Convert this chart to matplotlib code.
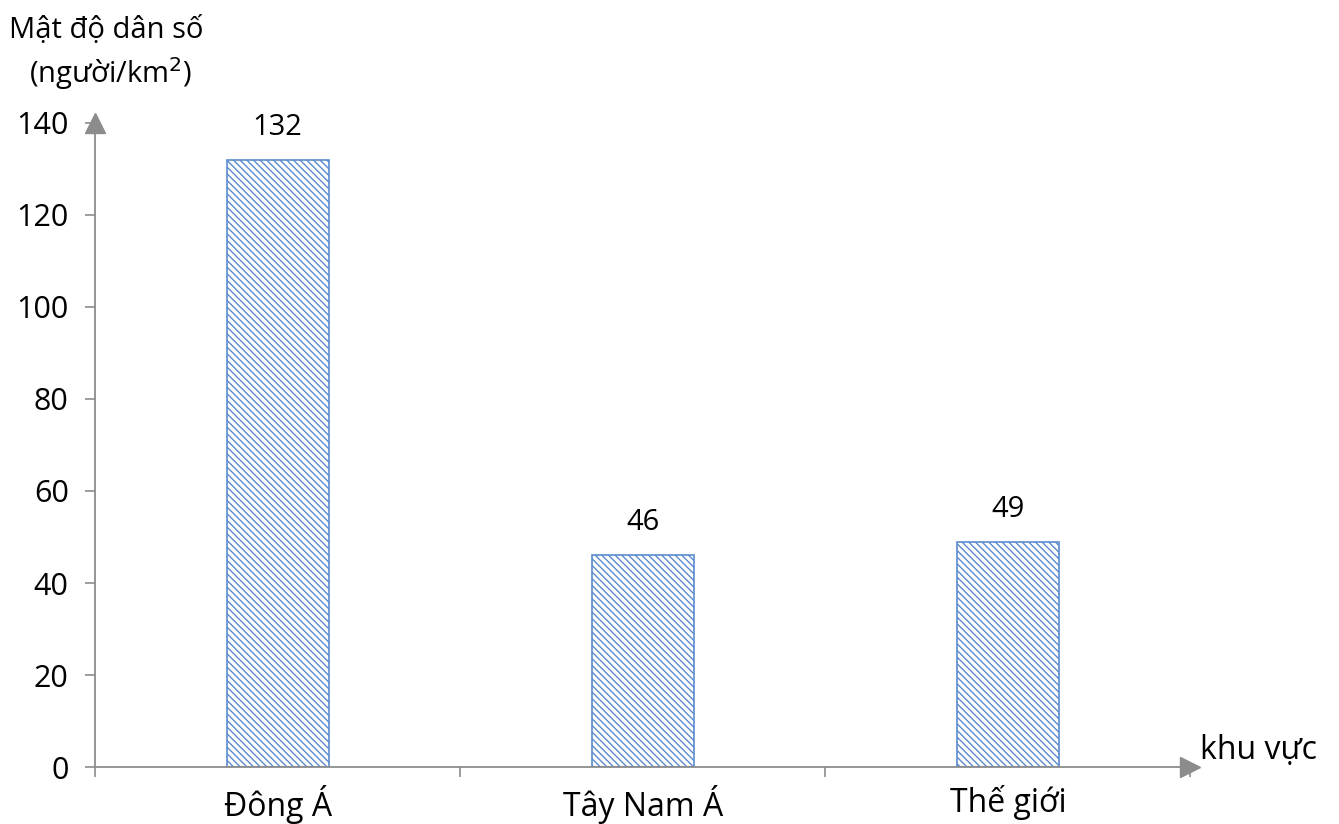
import numpy as np
import matplotlib.pyplot as plt

regions = ["Đông Á", "Tây Nam Á", "Thế giới"]
density = [132, 46, 49]
yticks = [0, 20, 40, 60, 80, 100, 120, 140]

plt.rcParams['font.family'] = ['Open Sans', 'DejaVu Sans']
plt.rcParams['hatch.color'] = '#5B8BD0'
plt.rcParams['hatch.linewidth'] = 1.0

fig = plt.figure(figsize=(13.39, 8.24), dpi=100)
ax = fig.add_axes([0.071, 0.069, 0.818, 0.782])

x = np.arange(len(regions))
bars = ax.bar(x, density, width=0.28, facecolor='white', edgecolor='#5B8BD0',
              hatch='\\\\\\\\\\', linewidth=1.2)
for b, v in zip(bars, density):
    ax.annotate(str(v), (b.get_x() + b.get_width() / 2, v), xytext=(0, 13),
                textcoords='offset points', ha='center', va='bottom', fontsize=21)

ax.set_xlim(-0.5, len(regions) - 0.5)
ax.set_ylim(0, 140)
ax.set_yticks(yticks)
ax.set_xticks(x)
ax.set_xticklabels(regions, fontsize=23)
ax.set_xticks(np.arange(len(regions) + 1) - 0.5, minor=True)
ax.tick_params(axis='x', which='major', length=0, pad=13)
ax.tick_params(axis='x', which='minor', length=7, color='#8C8C8C', width=1.2)
ax.tick_params(axis='y', length=7, color='#8C8C8C', width=1.2, labelsize=22, pad=12)

for s in ['top', 'right']:
    ax.spines[s].set_visible(False)
for s in ['left', 'bottom']:
    ax.spines[s].set_color('#8C8C8C')
    ax.spines[s].set_linewidth(1.3)

# arrow heads on the axes
ax.plot(1, 0, marker='>', color='#8C8C8C', markersize=14, transform=ax.transAxes, clip_on=False)
ax.plot(0, 1, marker='^', color='#8C8C8C', markersize=14, transform=ax.transAxes, clip_on=False)

fig.text(0.007, 0.963, "Mật độ dân số", fontsize=21, va='center', ha='left')
fig.text(0.022, 0.911, "(người/km$^2$)", fontsize=21, va='center', ha='left')
fig.text(0.896, 0.089, "khu vực", fontsize=23, va='center', ha='left')

fig.savefig('out.png', dpi=100)
